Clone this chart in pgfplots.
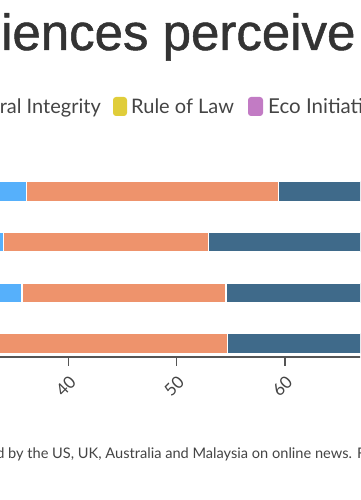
\documentclass[border=0pt]{standalone}
\usepackage{pgfplots}
\pgfplotsset{compat=1.18}
\usepackage{fontspec}
\setmainfont{Lato}
\newfontfamily\titlefont{Liberation Sans}[FakeBold=1]
\definecolor{lightblue}{HTML}{56B0FB}
\definecolor{orangeseg}{HTML}{EE936C}
\definecolor{darkblue}{HTML}{3F6A8A}
\definecolor{yellowsw}{HTML}{E0CD3A}
\definecolor{purplesw}{HTML}{C27BC4}
\definecolor{axisgray}{HTML}{555555}
\definecolor{tickgray}{HTML}{444444}
\definecolor{titlegray}{HTML}{333333}
\definecolor{textgray}{HTML}{444444}
\begin{document}
\begin{tikzpicture}[x=1pt,y=1pt]
\path[use as bounding box] (0,0) rectangle (360,500);
\clip (0,0) rectangle (360,500);
% title
\node[anchor=base west, inner sep=0, text=titlegray] at (1,450)
  {\titlefont\fontsize{51}{58}\selectfont\llap{How aud}iences perceive news coverage};
% legend
\node[anchor=base east, inner sep=0, text=textgray] at (101,386)
  {\fontsize{20}{24}\selectfont Electoral Integrity};
\fill[yellowsw, rounded corners=3pt] (113,384) rectangle (127,403);
\node[anchor=base west, inner sep=0, text=textgray] at (131,386)
  {\fontsize{20}{24}\selectfont Rule of Law};
\fill[purplesw, rounded corners=3pt] (248,384) rectangle (263,403);
\node[anchor=base west, inner sep=0, text=textgray] at (268,386)
  {\fontsize{20.5}{24}\selectfont Eco Initiatives};
% caption
\node[anchor=base west, inner sep=0, text=textgray] at (-4,41)
  {\fontsize{14.6}{17}\selectfont\llap{Survey conducte}d by the US, UK, Australia and Malaysia on online news. For more details see the report.};
\begin{axis}[
  at={(-40.0pt,143pt)}, anchor=south west,
  scale only axis, width=433.2pt, height=190.84pt,
  xmin=30, xmax=70, ymin=-0.2664, ymax=3.5,
  xbar stacked, bar width=20pt,
  axis x line*=bottom, axis y line=none,
  xtick={30,40,50,60,70}, ytick=\empty,
  x axis line style={draw=axisgray, line width=2pt},
  major tick length=9pt, tick align=outside,
  every tick/.style={draw=axisgray, line width=1.5pt},
  xticklabel shift=7pt,
  xticklabel style={rotate=45, anchor=north east, font=\fontsize{17}{20}\selectfont, text=tickgray, inner sep=1pt},
  /pgf/number format/assume math mode=true,
]
\addplot[fill=lightblue, draw=white, line width=1.5pt] coordinates {(30,0) (35.72,1) (34.0,2) (36.16,3)};
\addplot[fill=orangeseg, draw=white, line width=1.5pt] coordinates {(24.68,0) (18.84,1) (18.93,2) (23.27,3)};
\addplot[fill=darkblue, draw=white, line width=1.5pt] coordinates {(16,0) (18,1) (20,2) (15,3)};
\end{axis}
\end{tikzpicture}
\end{document}
